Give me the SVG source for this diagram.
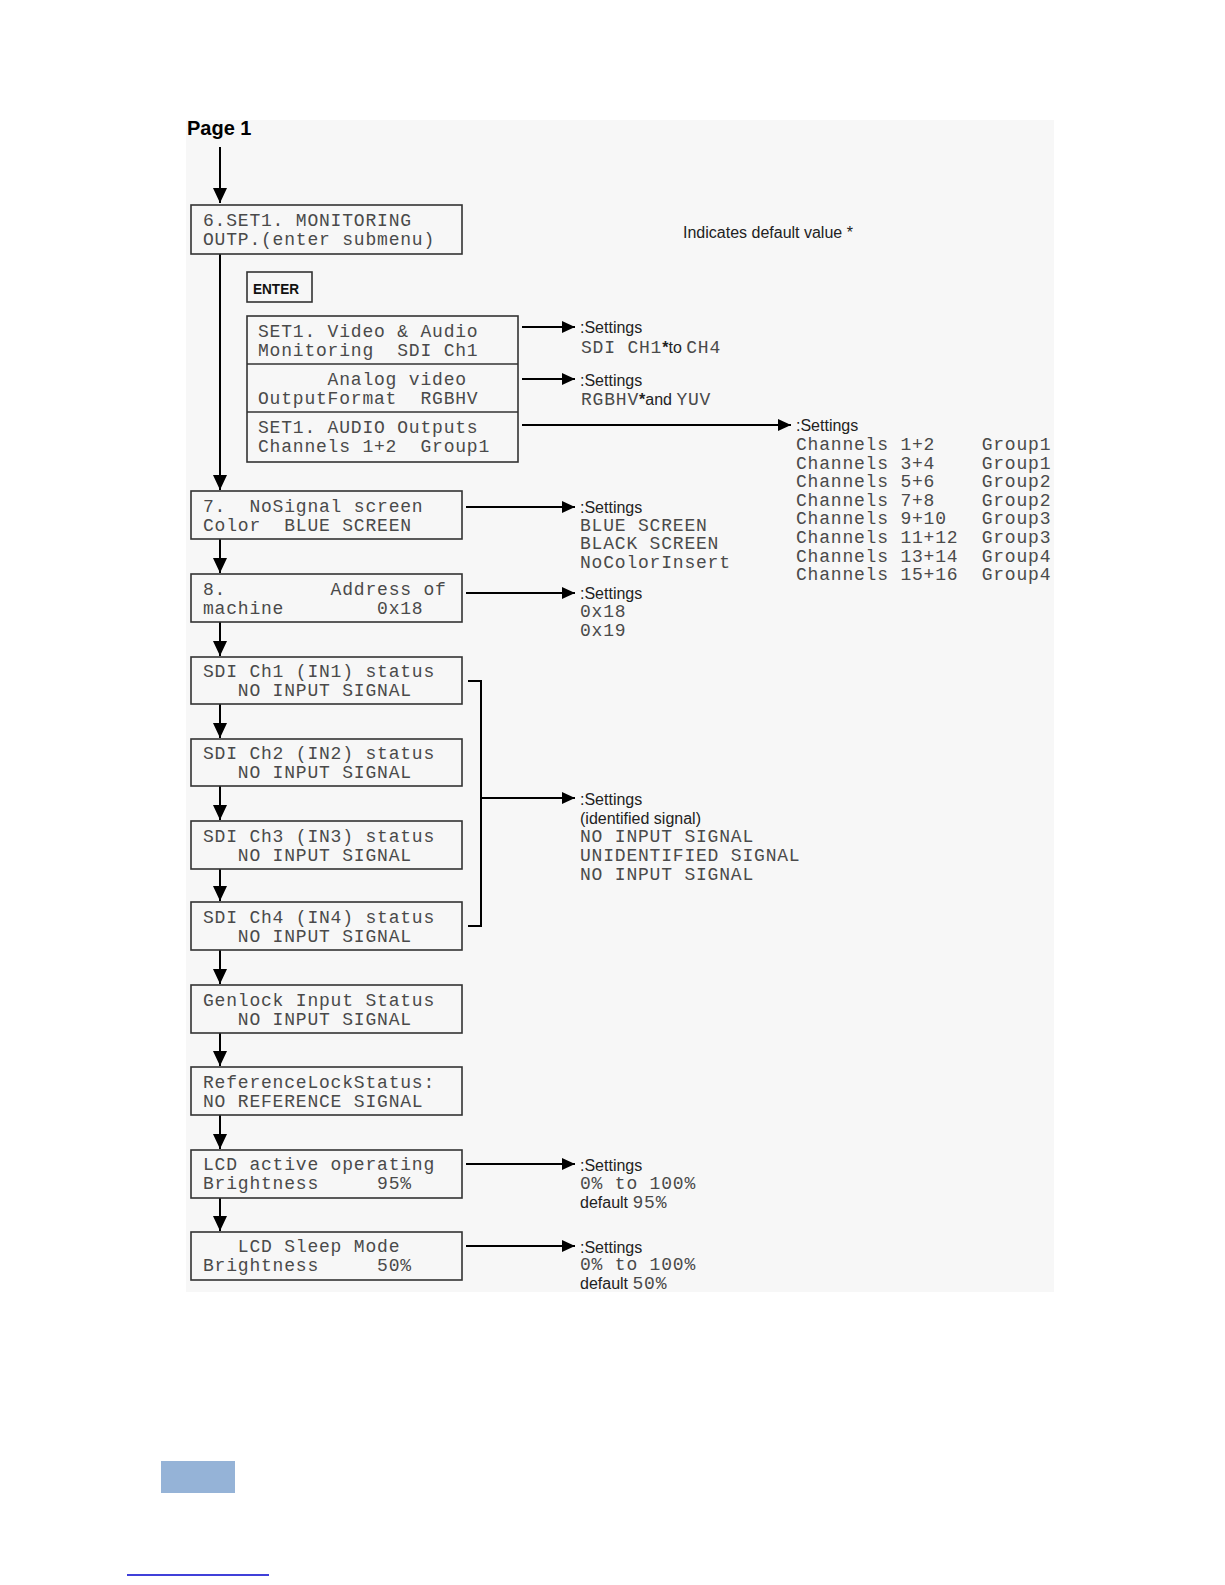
<svg xmlns="http://www.w3.org/2000/svg" width="1225" height="1585" viewBox="0 0 1225 1585" xml:space="preserve">
<style>
.bg{fill:#f7f7f7}
.box{fill:none;stroke:#333;stroke-width:1.6}
.lcd{font-family:"Liberation Mono","DejaVu Sans Mono",monospace;font-size:18px;letter-spacing:0.8px;fill:#4a4a4a;white-space:pre}
.lbl{font-family:"Liberation Sans",Arial,sans-serif;font-size:16px;fill:#222;white-space:pre}
.mono{font-family:"Liberation Mono","DejaVu Sans Mono",monospace;font-size:18px;letter-spacing:0.8px;fill:#4a4a4a}
.con{fill:none;stroke:#000;stroke-width:2}
.ar{marker-end:url(#ah)}
.arv{marker-end:url(#av)}
</style>
<defs>
<marker id="ah" markerUnits="userSpaceOnUse" markerWidth="14" markerHeight="12" refX="13" refY="6" orient="auto">
<path d="M0,0 L13,6 L0,12 Z" fill="#000"/>
</marker>
<marker id="av" markerUnits="userSpaceOnUse" markerWidth="16" markerHeight="14" refX="15" refY="7" orient="auto">
<path d="M0,0 L15,7 L0,14 Z" fill="#000"/>
</marker>
</defs>
<rect x="0" y="0" width="1225" height="1585" fill="#fff"/>
<rect class="bg" x="186" y="120" width="868" height="1172"/>
<text x="187" y="135" font-family="'Liberation Sans',Arial,sans-serif" font-size="20" font-weight="bold" fill="#000">Page 1</text>
<text class="lbl" x="683" y="238">Indicates default value *</text>

<g id="connectors">
<line class="con arv" x1="220" y1="147" x2="220" y2="203"/>
<line class="con arv" x1="220" y1="254" x2="220" y2="490"/>
<line class="con arv" x1="220" y1="539" x2="220" y2="573"/>
<line class="con arv" x1="220" y1="622" x2="220" y2="656"/>
<line class="con arv" x1="220" y1="704" x2="220" y2="738"/>
<line class="con arv" x1="220" y1="786" x2="220" y2="820"/>
<line class="con arv" x1="220" y1="869" x2="220" y2="901"/>
<line class="con arv" x1="220" y1="950" x2="220" y2="984"/>
<line class="con arv" x1="220" y1="1033" x2="220" y2="1066"/>
<line class="con arv" x1="220" y1="1115" x2="220" y2="1149"/>
<line class="con arv" x1="220" y1="1198" x2="220" y2="1231"/>
<line class="con ar" x1="522" y1="327" x2="575" y2="327"/>
<line class="con ar" x1="522" y1="379" x2="575" y2="379"/>
<line class="con ar" x1="522" y1="425" x2="791" y2="425"/>
<line class="con ar" x1="466" y1="507" x2="575" y2="507"/>
<line class="con ar" x1="466" y1="593" x2="575" y2="593"/>
<path class="con" d="M468,681 H481 V926 H468" stroke-width="1.6"/>
<line class="con ar" x1="481" y1="798" x2="575" y2="798"/>
<line class="con ar" x1="466" y1="1164" x2="575" y2="1164"/>
<line class="con ar" x1="466" y1="1246" x2="575" y2="1246"/>
</g>

<g id="node-monitoring">
<rect class="box" x="191" y="205" width="271" height="49"/>
<text class="lcd" x="203" y="226">6.SET1. MONITORING</text>
<text class="lcd" x="203" y="245">OUTP.(enter submenu)</text>
</g>

<g id="node-enter">
<rect class="box" x="247" y="272" width="65" height="30"/>
<text x="253" y="294" font-family="'Liberation Sans',Arial,sans-serif" font-size="15" font-weight="bold" fill="#111" textLength="46" lengthAdjust="spacingAndGlyphs">ENTER</text>
</g>

<g id="node-submenu">
<rect class="box" x="247" y="316" width="271" height="146"/>
<line class="box" x1="247" y1="364" x2="518" y2="364"/>
<line class="box" x1="247" y1="412" x2="518" y2="412"/>
<text class="lcd" x="258" y="337">SET1. Video &amp; Audio</text>
<text class="lcd" x="258" y="356">Monitoring  SDI Ch1</text>
<text class="lcd" x="258" y="385">      Analog video</text>
<text class="lcd" x="258" y="404">OutputFormat  RGBHV</text>
<text class="lcd" x="258" y="433">SET1. AUDIO Outputs</text>
<text class="lcd" x="258" y="452">Channels 1+2  Group1</text>
</g>

<g id="settings-monitoring">
<text class="lbl" x="580" y="333">:Settings</text>
<text class="lbl" x="581" y="353"><tspan class="mono">SDI CH1</tspan><tspan font-weight="bold">*</tspan>to <tspan class="mono">CH4</tspan></text>
</g>
<g id="settings-analog">
<text class="lbl" x="580" y="386">:Settings</text>
<text class="lbl" x="581" y="405"><tspan class="mono">RGBHV</tspan><tspan font-weight="bold">*</tspan>and <tspan class="mono">YUV</tspan></text>
</g>
<g id="settings-audio">
<text class="lbl" x="796" y="431">:Settings</text>
<text class="lcd" x="796" y="450">Channels 1+2    Group1</text>
<text class="lcd" x="796" y="469">Channels 3+4    Group1</text>
<text class="lcd" x="796" y="487">Channels 5+6    Group2</text>
<text class="lcd" x="796" y="506">Channels 7+8    Group2</text>
<text class="lcd" x="796" y="524">Channels 9+10   Group3</text>
<text class="lcd" x="796" y="543">Channels 11+12  Group3</text>
<text class="lcd" x="796" y="562">Channels 13+14  Group4</text>
<text class="lcd" x="796" y="580">Channels 15+16  Group4</text>
</g>

<g id="node-nosignal">
<rect class="box" x="191" y="491" width="271" height="48"/>
<text class="lcd" x="203" y="512">7.  NoSignal screen</text>
<text class="lcd" x="203" y="531">Color  BLUE SCREEN</text>
</g>
<g id="settings-nosignal">
<text class="lbl" x="580" y="513">:Settings</text>
<text class="lcd" x="580" y="531">BLUE SCREEN</text>
<text class="lcd" x="580" y="549">BLACK SCREEN</text>
<text class="lcd" x="580" y="568">NoColorInsert</text>
</g>

<g id="node-address">
<rect class="box" x="191" y="574" width="271" height="48"/>
<text class="lcd" x="203" y="595">8.         Address of</text>
<text class="lcd" x="203" y="614">machine        0x18</text>
</g>
<g id="settings-address">
<text class="lbl" x="580" y="599">:Settings</text>
<text class="lcd" x="580" y="617">0x18</text>
<text class="lcd" x="580" y="636">0x19</text>
</g>

<g id="node-sdi1">
<rect class="box" x="191" y="657" width="271" height="47"/>
<text class="lcd" x="203" y="677">SDI Ch1 (IN1) status</text>
<text class="lcd" x="203" y="696">   NO INPUT SIGNAL</text>
</g>
<g id="node-sdi2">
<rect class="box" x="191" y="739" width="271" height="47"/>
<text class="lcd" x="203" y="759">SDI Ch2 (IN2) status</text>
<text class="lcd" x="203" y="778">   NO INPUT SIGNAL</text>
</g>
<g id="node-sdi3">
<rect class="box" x="191" y="821" width="271" height="48"/>
<text class="lcd" x="203" y="842">SDI Ch3 (IN3) status</text>
<text class="lcd" x="203" y="861">   NO INPUT SIGNAL</text>
</g>
<g id="node-sdi4">
<rect class="box" x="191" y="902" width="271" height="48"/>
<text class="lcd" x="203" y="923">SDI Ch4 (IN4) status</text>
<text class="lcd" x="203" y="942">   NO INPUT SIGNAL</text>
</g>
<g id="settings-sdi">
<text class="lbl" x="580" y="805">:Settings</text>
<text class="lbl" x="580" y="824">(identified signal)</text>
<text class="lcd" x="580" y="842">NO INPUT SIGNAL</text>
<text class="lcd" x="580" y="861">UNIDENTIFIED SIGNAL</text>
<text class="lcd" x="580" y="880">NO INPUT SIGNAL</text>
</g>

<g id="node-genlock">
<rect class="box" x="191" y="985" width="271" height="48"/>
<text class="lcd" x="203" y="1006">Genlock Input Status</text>
<text class="lcd" x="203" y="1025">   NO INPUT SIGNAL</text>
</g>
<g id="node-reflock">
<rect class="box" x="191" y="1067" width="271" height="48"/>
<text class="lcd" x="203" y="1088">ReferenceLockStatus:</text>
<text class="lcd" x="203" y="1107">NO REFERENCE SIGNAL</text>
</g>

<g id="node-lcd-active">
<rect class="box" x="191" y="1150" width="271" height="48"/>
<text class="lcd" x="203" y="1170">LCD active operating</text>
<text class="lcd" x="203" y="1189">Brightness     95%</text>
</g>
<g id="settings-lcd-active">
<text class="lbl" x="580" y="1171">:Settings</text>
<text class="lcd" x="580" y="1189">0% to 100%</text>
<text class="lbl" x="580" y="1208">default <tspan class="mono">95%</tspan></text>
</g>

<g id="node-lcd-sleep">
<rect class="box" x="191" y="1232" width="271" height="48"/>
<text class="lcd" x="203" y="1252">   LCD Sleep Mode</text>
<text class="lcd" x="203" y="1271">Brightness     50%</text>
</g>
<g id="settings-lcd-sleep">
<text class="lbl" x="580" y="1253">:Settings</text>
<text class="lcd" x="580" y="1270">0% to 100%</text>
<text class="lbl" x="580" y="1289">default <tspan class="mono">50%</tspan></text>
</g>

<rect x="161" y="1461" width="74" height="32" fill="#95b3d7"/>
<line x1="127" y1="1575" x2="269" y2="1575" stroke="#0000cc" stroke-width="1.5"/>
</svg>
